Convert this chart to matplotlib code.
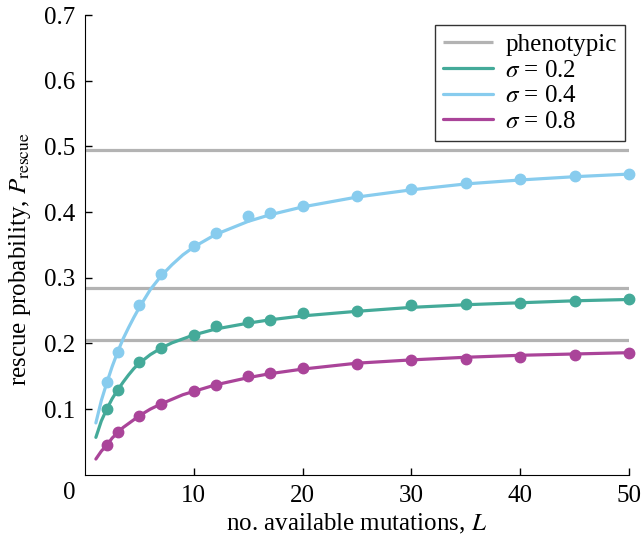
import matplotlib
matplotlib.use("Agg")
import matplotlib.pyplot as plt

plt.rcParams["font.family"] = ["Liberation Serif", "DejaVu Serif"]
plt.rcParams["mathtext.fontset"] = "stix"

# simulated points
L_pts = [2, 3, 5, 7, 10, 12, 15, 17, 20, 25, 30, 35, 40, 45, 50]
p_02 = [0.100, 0.129, 0.172, 0.193, 0.213, 0.226, 0.233, 0.236, 0.247, 0.249,
        0.258, 0.260, 0.262, 0.265, 0.268]
p_04 = [0.141, 0.187, 0.258, 0.306, 0.349, 0.368, 0.394, 0.398, 0.409, 0.424,
        0.435, 0.445, 0.450, 0.455, 0.458]
p_08 = [0.045, 0.065, 0.090, 0.108, 0.128, 0.137, 0.151, 0.155, 0.163, 0.169,
        0.175, 0.176, 0.180, 0.183, 0.185]

# theory curves
L_cur = [1, 1.5, 2, 2.5, 3, 3.5, 4, 4.5, 5, 6, 7, 8, 9, 10, 12, 15, 17, 20,
         25, 30, 35, 40, 45, 50]
c_02 = [0.057, 0.082, 0.100, 0.116, 0.129, 0.141, 0.152, 0.162, 0.170, 0.183,
        0.193, 0.201, 0.207, 0.213, 0.222, 0.231, 0.236, 0.242, 0.249, 0.255,
        0.259, 0.262, 0.265, 0.267]
c_04 = [0.079, 0.113, 0.140, 0.165, 0.187, 0.207, 0.224, 0.240, 0.255, 0.282,
        0.303, 0.320, 0.335, 0.347, 0.366, 0.386, 0.396, 0.408, 0.423, 0.434,
        0.443, 0.449, 0.454, 0.458]
c_08 = [0.024, 0.036, 0.045, 0.056, 0.064, 0.072, 0.078, 0.084, 0.090, 0.100,
        0.108, 0.115, 0.122, 0.127, 0.137, 0.148, 0.154, 0.161, 0.170, 0.175,
        0.179, 0.182, 0.184, 0.186]

phenotypic = [0.494, 0.284, 0.2055]

labels = ["$\\sigma$ = 0.2", "$\\sigma$ = 0.4", "$\\sigma$ = 0.8"]
colors = ["#44aa99", "#88ccee", "#aa4499"]
gray = "#b3b3b3"

fig = plt.figure(figsize=(6.42, 5.42), dpi=100)
ax = fig.add_axes([0.1324, 0.124, 0.8474, 0.848])

for i, y in enumerate(phenotypic):
    ax.plot([0, 50], [y, y], color=gray, lw=2.3, solid_capstyle="butt",
            label="phenotypic" if i == 0 else None)

for cc, pp, lab, col in zip([c_02, c_04, c_08], [p_02, p_04, p_08], labels, colors):
    ax.plot(L_cur, cc, color=col, lw=2.3, label=lab, solid_capstyle="round")
    ax.plot(L_pts, pp, "o", color=col, ms=7.5, clip_on=False)

ax.set_xlim(0, 50)
ax.set_ylim(0, 0.7)
ax.set_xticks([10, 20, 30, 40, 50])
ax.set_yticks([0.1, 0.2, 0.3, 0.4, 0.5, 0.6, 0.7])
ax.tick_params(direction="in", length=5, width=1, labelsize=18, pad=7)
ax.spines["top"].set_visible(False)
ax.spines["right"].set_visible(False)
ax.text(-0.029, -0.039, "0", transform=ax.transAxes, fontsize=18,
        ha="center", va="center")

ax.set_xlabel("no. available mutations, $L$", fontsize=18, labelpad=4)
ax.set_ylabel("rescue probability, $P_{\\mathrm{rescue}}$", fontsize=18)
ax.yaxis.set_label_coords(-0.096, 0.47)

leg = ax.legend(loc="upper right", bbox_to_anchor=(0.992, 0.978), borderaxespad=0,
                fontsize=18, fancybox=False, edgecolor="#333333", framealpha=1,
                handlelength=2.0, borderpad=0.32, labelspacing=0.13,
                handletextpad=0.5)
leg.get_frame().set_linewidth(1.0)

fig.savefig("out.png", dpi=100)
